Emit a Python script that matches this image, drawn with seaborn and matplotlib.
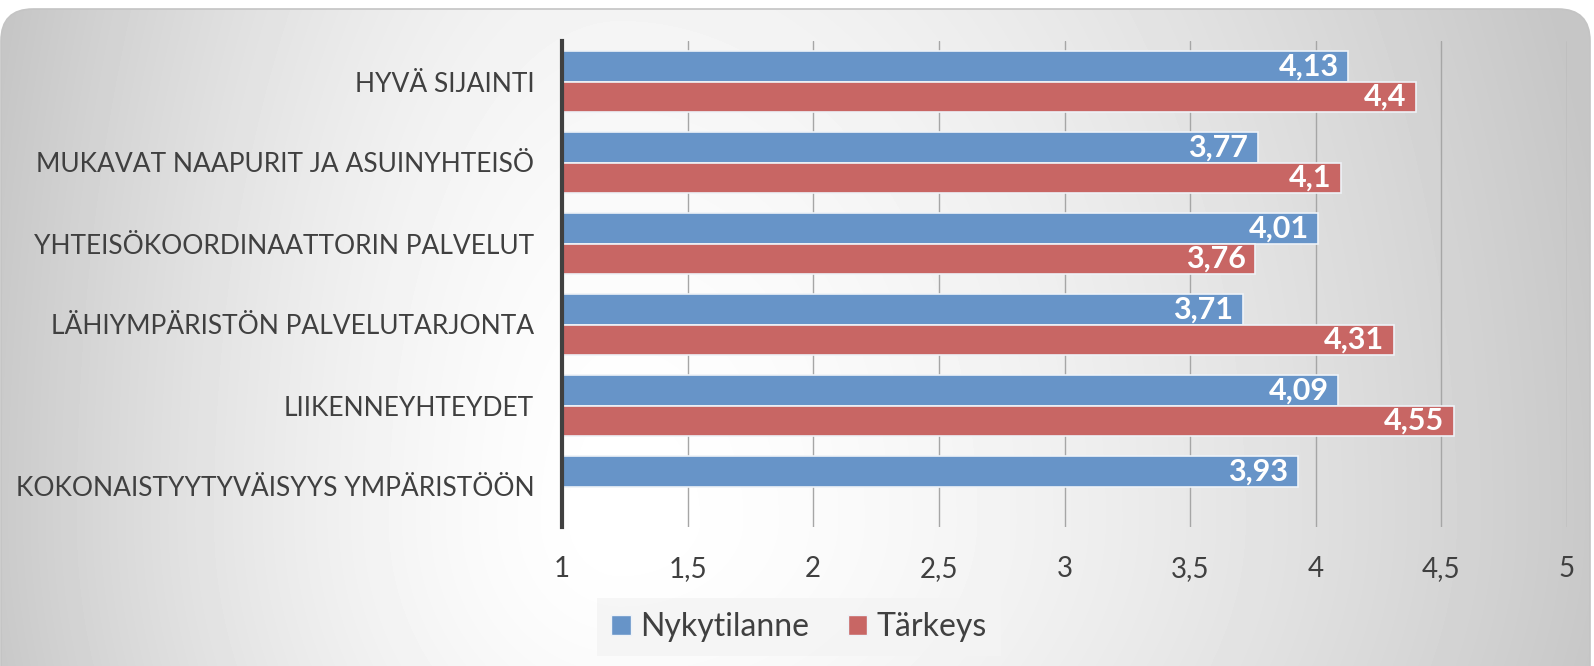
import numpy as np
import pandas as pd
import matplotlib
matplotlib.use("Agg")
import matplotlib.pyplot as plt
import seaborn as sns
from matplotlib.patches import FancyBboxPatch

categories = [
    "HYVÄ SIJAINTI",
    "MUKAVAT NAAPURIT JA ASUINYHTEISÖ",
    "YHTEISÖKOORDINAATTORIN PALVELUT",
    "LÄHIYMPÄRISTÖN PALVELUTARJONTA",
    "LIIKENNEYHTEYDET",
    "KOKONAISTYYTYVÄISYYS YMPÄRISTÖÖN",
]
nykytilanne = [4.13, 3.77, 4.01, 3.71, 4.09, 3.93]
tarkeys = [4.4, 4.1, 3.76, 4.31, 4.55, np.nan]
series = ["Nykytilanne", "Tärkeys"]
xticks = [1, 1.5, 2, 2.5, 3, 3.5, 4, 4.5, 5]

df = pd.DataFrame({
    "kategoria": categories * 2,
    "sarja": [series[0]] * len(categories) + [series[1]] * len(categories),
    "arvo": nykytilanne + tarkeys,
})

sns.set_style("white")
plt.rcParams["font.family"] = ["Lato", "DejaVu Sans"]

W, H = 1594, 666
fig = plt.figure(figsize=(W / 100, H / 100), dpi=100)
fig.patch.set_facecolor("white")

# gray background, white toward the lower middle, in a rounded frame
bg = fig.add_axes([0, 0, 1, 1], zorder=-10)
yy, xx = np.mgrid[0:H, 0:W]
cx, cy = 620.0, 520.0
sx = np.where(xx < cx, 650.0, 1000.0)
sy = np.where(yy < cy, 1400.0, 700.0)
d = np.sqrt(((xx - cx) / sx) ** 2 + ((yy - cy) / sy) ** 2)
g = np.clip(255 - 57 * d ** 1.6, 198, 255) / 255.0
im = bg.imshow(g, cmap="gray", vmin=0, vmax=1, extent=[0, W, H, 0], aspect="auto")
frame = FancyBboxPatch((1, 9), W - 5, H + 40, boxstyle="round,pad=0,rounding_size=32",
                       transform=bg.transData, facecolor="none", edgecolor="#c4c4c4", lw=1.2)
bg.add_patch(frame)
im.set_clip_path(frame)
bg.set_xlim(0, W)
bg.set_ylim(H, 0)
bg.axis("off")

ax = fig.add_axes([562 / W, 1 - 527 / H, (1567 - 562) / W, (527 - 41) / H])
ax.patch.set_alpha(0)

colors = {"Nykytilanne": "#6794c8", "Tärkeys": "#c86664"}
sns.barplot(data=df, y="kategoria", x="arvo", hue="sarja", orient="h",
            palette=colors, saturation=1, width=0.76, ax=ax,
            edgecolor="#eef2f7", linewidth=1.2, zorder=3, legend=False)

ax.set_xlim(1, 5)
ax.set_xticks(xticks)
ax.set_xticklabels([f"{t:g}".replace(".", ",") for t in xticks])
ax.xaxis.grid(True, color="#a6a6a6", lw=1.0, zorder=0)
ax.set_axisbelow(True)
for s in ["top", "right", "bottom"]:
    ax.spines[s].set_visible(False)
ax.spines["left"].set_color("#404040")
ax.spines["left"].set_linewidth(3)
ax.spines["left"].set_zorder(5)
ax.set_xlabel("")
ax.set_ylabel("")
ax.tick_params(axis="y", length=0, pad=20, labelsize=19, labelcolor="#404040")
ax.tick_params(axis="x", length=0, pad=21, labelsize=20, labelcolor="#404040")

for cont in ax.containers:
    labels = ["" if np.isnan(v) else f"{v:g}".replace(".", ",") for v in cont.datavalues]
    texts = ax.bar_label(cont, labels=labels, label_type="edge", padding=-7,
                         color="white", fontsize=22, fontweight="bold")
    for t in texts:
        t.set_ha("right")
        t.set_va("center")

handles = [plt.Rectangle((0, 0), 1, 1, facecolor=colors[s], edgecolor="#eef2f7")
           for s in series]
leg = fig.legend(handles, series, loc="center", bbox_to_anchor=(799 / W, 1 - 627 / H),
                 ncol=2, frameon=True, fontsize=23, handlelength=0.6, handleheight=0.6,
                 handletextpad=0.3, columnspacing=1.2, borderpad=0.45, borderaxespad=0,
                 fancybox=False)
leg.get_frame().set_facecolor("#f4f4f4")
leg.get_frame().set_edgecolor("none")
for t in leg.get_texts():
    t.set_color("#404040")

fig.savefig("out.png", dpi=100)
